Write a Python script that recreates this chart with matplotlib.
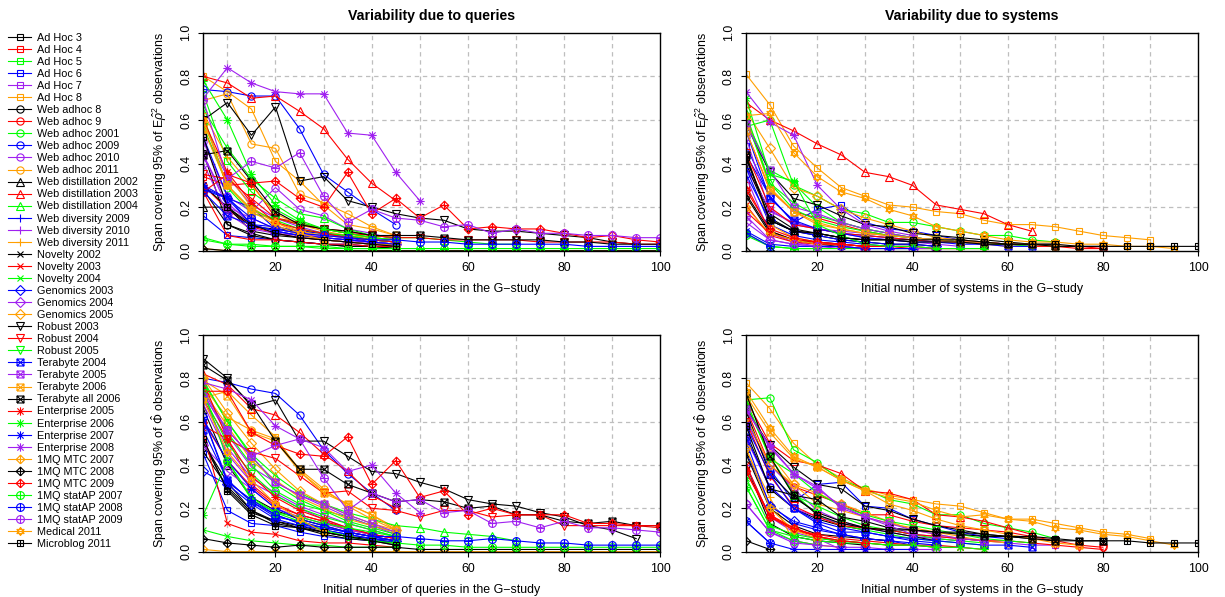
import numpy as np
import matplotlib
matplotlib.use('Agg')
import matplotlib.pyplot as plt
from matplotlib.path import Path

plt.rcParams['font.family'] = ['Liberation Sans', 'DejaVu Sans']
plt.rcParams['mathtext.fontset'] = 'custom'
plt.rcParams['mathtext.rm'] = 'Liberation Sans'
plt.rcParams['mathtext.it'] = 'Liberation Sans:italic'

# collections, in legend order
names = ['Ad Hoc 3', 'Ad Hoc 4', 'Ad Hoc 5', 'Ad Hoc 6', 'Ad Hoc 7', 'Ad Hoc 8',
         'Web adhoc 8', 'Web adhoc 9', 'Web adhoc 2001', 'Web adhoc 2009', 'Web adhoc 2010', 'Web adhoc 2011',
         'Web distillation 2002', 'Web distillation 2003', 'Web distillation 2004',
         'Web diversity 2009', 'Web diversity 2010', 'Web diversity 2011',
         'Novelty 2002', 'Novelty 2003', 'Novelty 2004',
         'Genomics 2003', 'Genomics 2004', 'Genomics 2005',
         'Robust 2003', 'Robust 2004', 'Robust 2005',
         'Terabyte 2004', 'Terabyte 2005', 'Terabyte 2006', 'Terabyte all 2006',
         'Enterprise 2005', 'Enterprise 2006', 'Enterprise 2007', 'Enterprise 2008',
         '1MQ MTC 2007', '1MQ MTC 2008', '1MQ MTC 2009',
         '1MQ statAP 2007', '1MQ statAP 2008', '1MQ statAP 2009',
         'Medical 2011', 'Microblog 2011']
# R pch per collection
pch = [0]*6 + [1]*6 + [2]*3 + [3]*3 + [4]*3 + [5]*3 + [6]*3 + [7]*4 + [8]*4 + [9]*3 + [10]*3 + [11, 12]

# span values at 5, 10, 15, ... queries (left) / systems (right)
q_rho = [
    [0.45, 0.12, 0.08, 0.05, 0.04, 0.03, 0.02, 0.02, 0.01],
    [0.34, 0.30, 0.31, 0.15, 0.13, 0.10, 0.09, 0.07, 0.06],
    [0.72, 0.41, 0.27, 0.19, 0.13, 0.10, 0.08, 0.06, 0.05],
    [0.16, 0.07, 0.06, 0.05, 0.04, 0.03, 0.03, 0.02, 0.02],
    [0.55, 0.34, 0.21, 0.15, 0.11, 0.08, 0.06, 0.05, 0.04],
    [0.80, 0.73, 0.65, 0.41, 0.32, 0.21, 0.12, 0.10, 0.07],
    [0.28, 0.12, 0.07, 0.05, 0.04, 0.03, 0.02, 0.02, 0.01],
    [0.30, 0.19, 0.11, 0.08, 0.06, 0.05, 0.04, 0.03, 0.02],
    [0.62, 0.29, 0.17, 0.15, 0.12, 0.10, 0.08, 0.06, 0.05],
    [0.74, 0.73, 0.71, 0.71, 0.56, 0.35, 0.27, 0.19, 0.12],
    [0.50, 0.25, 0.18, 0.29, 0.19, 0.16, 0.10, 0.08, 0.05],
    [0.69, 0.72, 0.49, 0.47, 0.26, 0.22, 0.17, 0.11, 0.07],
    [0.20, 0.20, 0.11, 0.10, 0.09, 0.08, 0.07, 0.05, 0.04],
    [0.80, 0.77, 0.70, 0.71, 0.64, 0.56, 0.42, 0.31, 0.23],
    [0.65, 0.47, 0.33, 0.24, 0.17, 0.15, 0.10, 0.07, 0.06, 0.06, 0.05, 0.04, 0.03, 0.03],
    [0.52, 0.25, 0.12, 0.11, 0.09, 0.08, 0.06, 0.05, 0.04],
    [0.44, 0.22, 0.12, 0.09, 0.07, 0.06, 0.05, 0.04, 0.03],
    [0.63, 0.43, 0.30, 0.17, 0.12, 0.09, 0.07, 0.06, 0.05],
    [0.30, 0.20, 0.09, 0.07, 0.06, 0.05, 0.04, 0.03, 0.03],
    [0.27, 0.07, 0.05, 0.05, 0.04, 0.03, 0.03, 0.02, 0.02],
    [0.06, 0.03, 0.03, 0.02, 0.02, 0.01, 0.01, 0.01, 0.01],
    [0.29, 0.24, 0.20, 0.10, 0.08, 0.07, 0.06, 0.04, 0.03],
    [0.40, 0.17, 0.10, 0.08, 0.07, 0.05, 0.04, 0.04, 0.03],
    [0.58, 0.35, 0.20, 0.13, 0.09, 0.07, 0.06, 0.05, 0.04],
    [0.60, 0.68, 0.53, 0.66, 0.32, 0.34, 0.23, 0.20, 0.17, 0.15, 0.14, 0.10, 0.09, 0.09, 0.08, 0.07, 0.06, 0.04, 0.03],
    [0.35, 0.33, 0.24, 0.15, 0.12, 0.10, 0.08, 0.07, 0.06, 0.06, 0.05, 0.05, 0.05, 0.05, 0.04, 0.04, 0.04, 0.04, 0.03, 0.03],
    [0.57, 0.30, 0.19, 0.14, 0.10, 0.08, 0.07, 0.05, 0.04],
    [0.27, 0.16, 0.12, 0.09, 0.07, 0.06, 0.05, 0.04, 0.03],
    [0.44, 0.20, 0.15, 0.10, 0.08, 0.06, 0.05, 0.04, 0.03],
    [0.56, 0.30, 0.18, 0.12, 0.07, 0.05, 0.04, 0.03, 0.03],
    [0.44, 0.46, 0.32, 0.18, 0.12, 0.10, 0.09, 0.07, 0.07, 0.07, 0.06, 0.05, 0.05, 0.05, 0.05, 0.04, 0.04, 0.03, 0.03, 0.03],
    [0.60, 0.36, 0.22, 0.13, 0.10, 0.08, 0.06, 0.05, 0.04],
    [0.78, 0.60, 0.35, 0.21, 0.14, 0.10, 0.08, 0.06, 0.05],
    [0.30, 0.24, 0.12, 0.09, 0.07, 0.06, 0.05, 0.04, 0.03],
    [0.70, 0.84, 0.77, 0.73, 0.72, 0.72, 0.54, 0.53, 0.36, 0.23],
    [0.01, 0.00, 0.00, 0.00, 0.00, 0.00, 0.00, 0.00, 0.00, 0.00, 0.00, 0.00, 0.00, 0.00, 0.00, 0.00, 0.00, 0.00, 0.00, 0.00],
    [0.01, 0.00, 0.00, 0.00, 0.00, 0.00, 0.00, 0.00, 0.00, 0.00, 0.00, 0.00, 0.00, 0.00, 0.00, 0.00, 0.00, 0.00, 0.00, 0.00],
    [0.27, 0.35, 0.31, 0.32, 0.24, 0.20, 0.36, 0.17, 0.24, 0.15, 0.21, 0.10, 0.11, 0.10, 0.10, 0.08, 0.06, 0.07, 0.05, 0.04],
    [0.05, 0.03, 0.02, 0.02, 0.02, 0.02, 0.01, 0.01, 0.01, 0.01, 0.01, 0.01, 0.01, 0.01, 0.01, 0.01, 0.01, 0.01, 0.01, 0.01],
    [0.28, 0.24, 0.15, 0.10, 0.08, 0.07, 0.06, 0.05, 0.05, 0.04, 0.04, 0.03, 0.03, 0.03, 0.03, 0.03, 0.02, 0.02, 0.02, 0.02],
    [0.69, 0.33, 0.41, 0.38, 0.45, 0.25, 0.13, 0.19, 0.15, 0.14, 0.11, 0.12, 0.08, 0.10, 0.08, 0.08, 0.07, 0.07, 0.06, 0.06],
    [0.60, 0.30, 0.19, 0.13, 0.08, 0.05],
    [0.52, 0.20, 0.12, 0.08, 0.06, 0.05, 0.04, 0.03, 0.02],
]

s_rho = [
    [0.42, 0.17, 0.10, 0.08, 0.06, 0.05],
    [0.30, 0.09, 0.05, 0.04, 0.02],
    [0.60, 0.37, 0.31, 0.20, 0.13, 0.10, 0.08, 0.06, 0.05, 0.04, 0.03],
    [0.48, 0.25, 0.13, 0.19, 0.21, 0.13, 0.10, 0.09, 0.07, 0.05, 0.04, 0.03],
    [0.38, 0.19, 0.12, 0.10, 0.09, 0.08, 0.07, 0.06, 0.05, 0.04, 0.04, 0.03, 0.03, 0.02],
    [0.81, 0.67, 0.48, 0.38, 0.29, 0.25, 0.21, 0.20, 0.18, 0.17, 0.14, 0.12, 0.12, 0.11, 0.09, 0.07, 0.06, 0.05],
    [0.25, 0.08, 0.05, 0.03, 0.02, 0.01],
    [0.55, 0.28, 0.18, 0.15, 0.12, 0.09, 0.07, 0.06, 0.05, 0.04, 0.04, 0.03, 0.03, 0.02, 0.02, 0.01],
    [0.57, 0.60, 0.30, 0.25, 0.19, 0.17, 0.13, 0.13, 0.11, 0.09, 0.07, 0.07, 0.05, 0.04],
    [0.44, 0.25, 0.13, 0.10, 0.08, 0.07, 0.06, 0.05, 0.04],
    [0.52, 0.18, 0.13, 0.10, 0.08, 0.06, 0.05, 0.04, 0.03, 0.02],
    [0.62, 0.29, 0.18, 0.12, 0.10, 0.08, 0.07, 0.06, 0.05, 0.04, 0.03, 0.02],
    [0.40, 0.15, 0.09, 0.07, 0.05, 0.04, 0.03, 0.03, 0.02],
    [0.68, 0.60, 0.55, 0.49, 0.44, 0.36, 0.34, 0.30, 0.21, 0.19, 0.17, 0.12, 0.09],
    [0.63, 0.31, 0.22, 0.16, 0.13, 0.10, 0.08, 0.06, 0.05, 0.04, 0.03],
    [0.38, 0.12, 0.07, 0.05, 0.04, 0.03, 0.02, 0.02],
    [0.34, 0.08, 0.04, 0.02, 0.01],
    [0.45, 0.12, 0.06, 0.04, 0.02],
    [0.26, 0.09, 0.05, 0.04, 0.03, 0.02, 0.02],
    [0.21, 0.07, 0.04, 0.03, 0.03, 0.02, 0.02, 0.01, 0.01, 0.01],
    [0.08, 0.02, 0.01, 0.01, 0.01, 0.01, 0.01, 0.01, 0.01],
    [0.35, 0.14, 0.09, 0.07, 0.05, 0.04, 0.03, 0.03, 0.02],
    [0.13, 0.05, 0.03, 0.02, 0.02, 0.01, 0.01, 0.01, 0.01],
    [0.64, 0.47, 0.29, 0.25, 0.19, 0.15, 0.12, 0.09, 0.06, 0.05, 0.04],
    [0.58, 0.36, 0.24, 0.21, 0.16, 0.12, 0.11, 0.08, 0.07, 0.06, 0.05, 0.04, 0.03, 0.03],
    [0.45, 0.20, 0.12, 0.10, 0.08, 0.07, 0.06, 0.05, 0.04, 0.04, 0.03, 0.03, 0.02, 0.02, 0.01, 0.01],
    [0.60, 0.31, 0.19, 0.14, 0.11, 0.09, 0.07, 0.06, 0.05, 0.04, 0.03, 0.03, 0.02],
    [0.55, 0.24, 0.14, 0.10, 0.08, 0.06, 0.05, 0.04, 0.04, 0.03, 0.03, 0.02, 0.02],
    [0.58, 0.37, 0.20, 0.17, 0.13, 0.10, 0.08, 0.06, 0.05, 0.04, 0.03],
    [0.55, 0.28, 0.18, 0.13, 0.10, 0.08, 0.07, 0.06, 0.05, 0.04, 0.04, 0.03, 0.03, 0.02, 0.02],
    [0.44, 0.14, 0.09, 0.08, 0.06, 0.05, 0.05, 0.04, 0.04, 0.04, 0.03, 0.03, 0.03, 0.02, 0.02, 0.02],
    [0.18, 0.08, 0.05, 0.04, 0.03, 0.02, 0.02, 0.02, 0.01, 0.01, 0.01],
    [0.70, 0.35, 0.32, 0.12, 0.07, 0.03, 0.02, 0.02, 0.01, 0.01, 0.01],
    [0.09, 0.03, 0.02, 0.02, 0.02, 0.01, 0.01, 0.01],
    [0.73, 0.59, 0.53, 0.30, 0.19, 0.12, 0.09, 0.07],
    [0.20, 0.08, 0.05, 0.03],
    [0.00, 0.00],
    [0.28, 0.10, 0.06, 0.04, 0.03, 0.02],
    [0.07, 0.02, 0.01, 0.01],
    [0.08, 0.02],
    [0.16, 0.05, 0.03, 0.02],
    [0.62, 0.63, 0.45, 0.34, 0.27, 0.24, 0.19, 0.16, 0.11, 0.09, 0.07, 0.05, 0.04, 0.04, 0.03, 0.03, 0.02, 0.02, 0.01],
    [0.43, 0.14, 0.09, 0.08, 0.06, 0.05, 0.05, 0.05, 0.05, 0.05, 0.04, 0.03, 0.03, 0.03, 0.02, 0.02, 0.02, 0.02, 0.02, 0.02],
]

q_phi = [
    [0.50, 0.29, 0.18, 0.14, 0.12, 0.09, 0.07, 0.06, 0.04],
    [0.60, 0.42, 0.30, 0.21, 0.17, 0.14, 0.10, 0.08, 0.06],
    [0.78, 0.60, 0.44, 0.31, 0.24, 0.19, 0.16, 0.12, 0.09],
    [0.45, 0.19, 0.13, 0.12, 0.09, 0.07, 0.06, 0.05, 0.04],
    [0.73, 0.54, 0.39, 0.32, 0.26, 0.21, 0.16, 0.12, 0.08],
    [0.71, 0.74, 0.63, 0.53, 0.37, 0.28, 0.22, 0.17, 0.11],
    [0.50, 0.32, 0.19, 0.13, 0.11, 0.09, 0.07, 0.05, 0.04],
    [0.70, 0.52, 0.31, 0.22, 0.17, 0.14, 0.11, 0.08, 0.06],
    [0.75, 0.55, 0.40, 0.28, 0.22, 0.19, 0.14, 0.11, 0.08],
    [0.80, 0.78, 0.75, 0.73, 0.63, 0.47, 0.36, 0.27, 0.19],
    [0.70, 0.48, 0.34, 0.27, 0.21, 0.17, 0.13, 0.10, 0.07],
    [0.76, 0.62, 0.56, 0.52, 0.38, 0.29, 0.21, 0.15, 0.10],
    [0.66, 0.40, 0.25, 0.19, 0.15, 0.12, 0.09, 0.07, 0.05],
    [0.82, 0.77, 0.66, 0.63, 0.55, 0.45, 0.37, 0.26, 0.20],
    [0.79, 0.60, 0.45, 0.35, 0.27, 0.22, 0.18, 0.15, 0.12, 0.11, 0.09, 0.08, 0.07, 0.05],
    [0.62, 0.33, 0.23, 0.17, 0.13, 0.10, 0.08, 0.06, 0.04],
    [0.68, 0.45, 0.32, 0.26, 0.20, 0.15, 0.11, 0.08, 0.06],
    [0.74, 0.58, 0.42, 0.33, 0.25, 0.20, 0.15, 0.12, 0.09],
    [0.46, 0.30, 0.19, 0.14, 0.11, 0.08, 0.06, 0.05, 0.03],
    [0.55, 0.13, 0.09, 0.08, 0.05, 0.04, 0.04, 0.03, 0.02],
    [0.10, 0.07, 0.05, 0.04, 0.03, 0.03, 0.02, 0.02, 0.02],
    [0.37, 0.31, 0.22, 0.15, 0.12, 0.10, 0.08, 0.06, 0.05],
    [0.49, 0.37, 0.29, 0.20, 0.16, 0.13, 0.10, 0.08, 0.06],
    [0.80, 0.64, 0.50, 0.38, 0.28, 0.22, 0.17, 0.13, 0.10],
    [0.89, 0.80, 0.67, 0.70, 0.51, 0.51, 0.44, 0.37, 0.36, 0.32, 0.29, 0.24, 0.22, 0.21, 0.18, 0.16, 0.12, 0.10, 0.06],
    [0.58, 0.52, 0.46, 0.43, 0.35, 0.27, 0.28, 0.20, 0.19, 0.16, 0.19, 0.19, 0.16, 0.17, 0.17, 0.12, 0.12, 0.12, 0.12, 0.11],
    [0.72, 0.50, 0.36, 0.26, 0.20, 0.16, 0.13, 0.10, 0.07],
    [0.56, 0.33, 0.23, 0.16, 0.14, 0.11, 0.09, 0.07, 0.05],
    [0.74, 0.56, 0.44, 0.32, 0.26, 0.22, 0.17, 0.13, 0.09],
    [0.79, 0.72, 0.55, 0.51, 0.37, 0.27, 0.22, 0.17, 0.10],
    [0.86, 0.79, 0.68, 0.51, 0.38, 0.38, 0.31, 0.27, 0.23, 0.24, 0.23, 0.20, 0.21, 0.17, 0.17, 0.14, 0.13, 0.14, 0.12, 0.12],
    [0.78, 0.52, 0.35, 0.25, 0.19, 0.15, 0.11, 0.08, 0.06],
    [0.17, 0.42, 0.25, 0.18, 0.16, 0.13, 0.11, 0.09, 0.07],
    [0.61, 0.42, 0.29, 0.20, 0.15, 0.12, 0.09, 0.07, 0.05],
    [0.78, 0.75, 0.70, 0.58, 0.52, 0.48, 0.37, 0.40, 0.27, 0.18],
    [0.01, 0.00, 0.00, 0.00, 0.00, 0.00, 0.00, 0.00, 0.00, 0.00, 0.00, 0.00, 0.00, 0.00, 0.00, 0.00, 0.00, 0.00, 0.00, 0.00],
    [0.06, 0.04, 0.03, 0.02, 0.03, 0.02, 0.02, 0.02, 0.02, 0.01, 0.01, 0.01, 0.01, 0.01, 0.01, 0.01, 0.01, 0.01, 0.01, 0.01],
    [0.74, 0.74, 0.55, 0.49, 0.45, 0.44, 0.53, 0.31, 0.42, 0.25, 0.28, 0.17, 0.20, 0.17, 0.17, 0.17, 0.13, 0.13, 0.12, 0.12],
    [0.75, 0.42, 0.24, 0.18, 0.14, 0.10, 0.07, 0.05, 0.04, 0.03, 0.03, 0.02, 0.02, 0.02, 0.02, 0.02, 0.02, 0.02, 0.02, 0.02],
    [0.62, 0.32, 0.24, 0.17, 0.13, 0.11, 0.09, 0.07, 0.07, 0.06, 0.05, 0.05, 0.06, 0.05, 0.04, 0.04, 0.03, 0.03, 0.03, 0.03],
    [0.72, 0.56, 0.44, 0.49, 0.52, 0.34, 0.19, 0.27, 0.23, 0.24, 0.18, 0.19, 0.13, 0.14, 0.11, 0.14, 0.11, 0.11, 0.10, 0.09],
    [0.70, 0.46, 0.33, 0.22, 0.15, 0.09],
    [0.52, 0.28, 0.17, 0.12, 0.11, 0.09, 0.07, 0.05, 0.03],
]

s_phi = [
    [0.55, 0.29, 0.20, 0.15, 0.12, 0.10],
    [0.37, 0.17, 0.10, 0.07, 0.04],
    [0.73, 0.44, 0.27, 0.17, 0.12, 0.10, 0.08, 0.06, 0.05, 0.04, 0.03],
    [0.62, 0.38, 0.23, 0.31, 0.32, 0.21, 0.20, 0.15, 0.12, 0.09, 0.07, 0.06],
    [0.52, 0.30, 0.20, 0.16, 0.13, 0.11, 0.10, 0.08, 0.07, 0.06, 0.05, 0.04, 0.03, 0.03],
    [0.78, 0.66, 0.50, 0.40, 0.34, 0.29, 0.26, 0.24, 0.22, 0.21, 0.18, 0.15, 0.15, 0.13, 0.11, 0.09, 0.08, 0.06],
    [0.40, 0.13, 0.07, 0.05, 0.04, 0.03],
    [0.66, 0.40, 0.30, 0.26, 0.22, 0.17, 0.17, 0.14, 0.12, 0.11, 0.10, 0.09, 0.07, 0.05, 0.03, 0.02],
    [0.70, 0.71, 0.47, 0.41, 0.33, 0.29, 0.24, 0.22, 0.17, 0.17, 0.13, 0.11, 0.09, 0.06],
    [0.53, 0.30, 0.20, 0.14, 0.11, 0.09, 0.07, 0.05, 0.04],
    [0.60, 0.40, 0.29, 0.19, 0.14, 0.11, 0.09, 0.07, 0.06, 0.05],
    [0.68, 0.45, 0.31, 0.22, 0.19, 0.16, 0.13, 0.11, 0.09, 0.07, 0.05, 0.04],
    [0.65, 0.36, 0.25, 0.18, 0.14, 0.11, 0.09, 0.07, 0.05],
    [0.70, 0.50, 0.42, 0.40, 0.36, 0.28, 0.27, 0.24, 0.17, 0.16, 0.14, 0.11, 0.08],
    [0.68, 0.44, 0.26, 0.21, 0.16, 0.12, 0.10, 0.08, 0.06, 0.05, 0.04],
    [0.46, 0.22, 0.13, 0.10, 0.08, 0.06, 0.05, 0.03],
    [0.40, 0.16, 0.09, 0.06, 0.01],
    [0.47, 0.25, 0.05, 0.03, 0.02],
    [0.45, 0.20, 0.12, 0.08, 0.07, 0.06, 0.05],
    [0.40, 0.16, 0.10, 0.08, 0.06, 0.05, 0.04, 0.03, 0.03, 0.02],
    [0.30, 0.10, 0.07, 0.05, 0.04, 0.04, 0.03, 0.03, 0.02],
    [0.51, 0.21, 0.14, 0.11, 0.08, 0.06, 0.05, 0.04, 0.03],
    [0.22, 0.09, 0.05, 0.03, 0.02, 0.02, 0.01, 0.01, 0.01],
    [0.62, 0.40, 0.31, 0.27, 0.22, 0.18, 0.14, 0.10, 0.08, 0.06, 0.05],
    [0.66, 0.49, 0.39, 0.31, 0.29, 0.21, 0.19, 0.15, 0.12, 0.10, 0.08, 0.07, 0.06, 0.05],
    [0.60, 0.35, 0.21, 0.16, 0.12, 0.11, 0.10, 0.08, 0.07, 0.06, 0.05, 0.05, 0.04, 0.03, 0.02, 0.01],
    [0.70, 0.43, 0.36, 0.27, 0.21, 0.17, 0.14, 0.12, 0.10, 0.08, 0.06, 0.05, 0.04],
    [0.58, 0.36, 0.20, 0.13, 0.09, 0.09, 0.07, 0.06, 0.05, 0.04, 0.03, 0.03, 0.02],
    [0.66, 0.48, 0.36, 0.29, 0.21, 0.16, 0.13, 0.10, 0.08, 0.06, 0.05],
    [0.72, 0.55, 0.43, 0.39, 0.33, 0.28, 0.22, 0.19, 0.15, 0.12, 0.10, 0.08, 0.06, 0.04, 0.03],
    [0.73, 0.44, 0.26, 0.24, 0.16, 0.14, 0.11, 0.10, 0.09, 0.08, 0.07, 0.07, 0.06, 0.05, 0.05, 0.05],
    [0.37, 0.17, 0.11, 0.07, 0.05, 0.04, 0.03, 0.03, 0.02, 0.02, 0.01],
    [0.34, 0.12, 0.08, 0.06, 0.05, 0.04, 0.03, 0.03, 0.02, 0.02, 0.01],
    [0.14, 0.04, 0.01, 0.01, 0.01, 0.01, 0.01, 0.01],
    [0.65, 0.49, 0.36, 0.30, 0.20, 0.16, 0.12, 0.08],
    [0.48, 0.20, 0.10, 0.06],
    [0.05, 0.01],
    [0.37, 0.16, 0.11, 0.07, 0.05, 0.04],
    [0.30, 0.10, 0.05, 0.03],
    [0.14, 0.04],
    [0.22, 0.09, 0.04, 0.03],
    [0.74, 0.57, 0.44, 0.39, 0.33, 0.28, 0.25, 0.23, 0.19, 0.16, 0.17, 0.15, 0.14, 0.11, 0.10, 0.08, 0.07, 0.05, 0.03],
    [0.58, 0.29, 0.26, 0.17, 0.13, 0.11, 0.10, 0.10, 0.09, 0.09, 0.08, 0.07, 0.07, 0.06, 0.05, 0.05, 0.05, 0.04, 0.04, 0.04],
]

palette = ['black', '#FF0000', '#00FF00', '#0000FF', '#A020F0', '#FF9F00']


# R plotting symbols as matplotlib paths
def seg_path(segs):
    verts, codes = [], []
    for s in segs:
        verts += s
        codes += [Path.MOVETO] + [Path.LINETO] * (len(s) - 1)
    return Path(verts, codes)


sq = [(-1, -1), (1, -1), (1, 1), (-1, 1), (-1, -1)]
dia = [(0, -1.3), (1.3, 0), (0, 1.3), (-1.3, 0), (0, -1.3)]
plus = [[(-1, 0), (1, 0)], [(0, -1), (0, 1)]]
cross = [[(-1, -1), (1, 1)], [(-1, 1), (1, -1)]]
up = [(0, 1.1), (0.95, -0.55), (-0.95, -0.55), (0, 1.1)]
down = [(0, -1.1), (0.95, 0.55), (-0.95, 0.55), (0, -1.1)]

markers = {
    0: 's', 1: 'o', 2: '^', 3: '+', 4: 'x', 5: 'D', 6: 'v',
    7: seg_path([sq] + cross),
    8: seg_path(plus + [[(-0.75, -0.75), (0.75, 0.75)], [(-0.75, 0.75), (0.75, -0.75)]]),
    9: seg_path([dia, [(-1.3, 0), (1.3, 0)], [(0, -1.3), (0, 1.3)]]),
    10: Path.make_compound_path(Path.unit_circle(), seg_path(plus)),
    11: seg_path([up, down]),
    12: seg_path([sq] + plus),
}
msize = {0: 5, 1: 5.2, 2: 5.5, 3: 6, 4: 5, 5: 4.6, 6: 5.5, 7: 5, 8: 6, 9: 6.2, 10: 5.6, 11: 6, 12: 5}

fig = plt.figure(figsize=(12.25, 5.97), dpi=100)
boxes = [[0.166, 0.580, 0.373, 0.365], [0.609, 0.580, 0.369, 0.365],
         [0.166, 0.076, 0.373, 0.363], [0.609, 0.076, 0.369, 0.363]]
panels = [q_rho, s_rho, q_phi, s_phi]
rho_lab = r'Span covering 95% of E$\hat{\rho}^2$ observations'
phi_lab = r'Span covering 95% of $\hat{\Phi}$ observations'
xlabs = ['Initial number of queries in the G\u2212study', 'Initial number of systems in the G\u2212study'] * 2
ylabs = [rho_lab, rho_lab, phi_lab, phi_lab]
titles = ['Variability due to queries', 'Variability due to systems', None, None]

handles = []
for k, data in enumerate(panels):
    ax = fig.add_axes(boxes[k])
    for x in range(10, 100, 10):
        ax.axvline(x, color='#BEBEBE', lw=0.9, ls=(0, (3.5, 3)), zorder=0)
    for y in [0.2, 0.4, 0.6, 0.8]:
        ax.axhline(y, color='#BEBEBE', lw=0.9, ls=(0, (3.5, 3)), zorder=0)
    for i, vals in enumerate(data):
        xs = 5 * np.arange(1, len(vals) + 1)
        p = pch[i]
        ln, = ax.plot(xs, vals, color=palette[i % 6], lw=0.8,
                      marker=markers[p], ms=msize[p], mfc='none', mew=0.8,
                      label=names[i])
        if k == 0:
            handles.append(ln)
    ax.set_xlim(5, 100)
    ax.set_ylim(0, 1)
    ax.set_xticks([20, 40, 60, 80, 100])
    ax.set_yticks([0, 0.2, 0.4, 0.6, 0.8, 1.0])
    ax.set_yticklabels(['0.0', '0.2', '0.4', '0.6', '0.8', '1.0'], rotation=90, va='center')
    ax.tick_params(labelsize=8.9, length=3.6, width=0.8, pad=4.5)
    for sp in ax.spines.values():
        sp.set_linewidth(1.0)
    ax.set_xlabel(xlabs[k], fontsize=8.9)
    ax.xaxis.set_label_coords(0.5, -0.15)
    ax.set_ylabel(ylabs[k], fontsize=8.9)
    ax.yaxis.set_label_coords(-0.076, 0.5)
    if titles[k]:
        ax.set_title(titles[k], fontsize=10.2, fontweight='bold', pad=9)

fig.legend(handles=handles, loc='upper left', bbox_to_anchor=(0.0, 0.958),
           frameon=False, fontsize=7.8, numpoints=1, handlelength=2.2,
           handletextpad=0.5, labelspacing=0.19, borderaxespad=0.3)

plt.savefig('out.png', dpi=100)
